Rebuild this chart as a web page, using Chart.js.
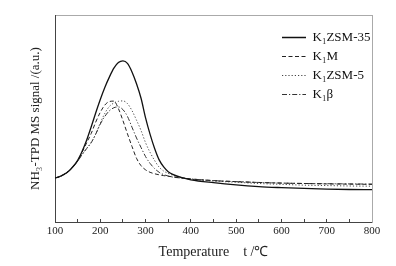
<!DOCTYPE html>
<html><head><meta charset="utf-8">
<script src="https://cdn.jsdelivr.net/npm/chart.js@4.4.1/dist/chart.umd.min.js"></script>
<style>html,body{margin:0;padding:0;background:#fff;}#wrap{width:396px;height:266px;}</style>
</head><body><div id="wrap"><canvas id="c" width="396" height="266"></canvas></div>
<script>
const temperatures = [100,110,120,130,140,150,160,170,180,190,200,210,220,230,240,250,260,270,280,290,300,310,320,330,340,350,360,380,400,450,500,550,600,650,700,750,800];
const k1zsm35 = [21.3,21.9,23.0,24.5,26.8,29.8,34.2,39.6,46,52.8,59.2,65,70,74.3,77,77.8,76.6,72.5,66.8,59.8,50.3,42.3,35.5,30,26.6,24.3,23.0,21.4,20.4,19.0,17.9,17.1,16.6,16.2,15.9,15.7,15.6];
const k1m = [21.3,21.9,23.0,24.5,26.8,29.6,33.8,38.3,42.8,48.3,53,56.5,58.2,58.4,54.8,49.0,42.6,36.5,30.8,27.2,25.2,24.0,23.3,22.8,22.4,22.1,21.8,21.3,20.8,20.0,19.5,19.1,18.8,18.6,18.4,18.3,18.2];
const k1zsm5 = [21.3,21.9,23.0,24.5,26.7,29.3,32.6,35.6,38.5,42.5,47.8,52.5,55.8,57.5,58.3,58.5,57.2,53.8,49.2,44.2,38.3,33.6,29.7,26.5,24.6,23.5,22.6,21.5,20.7,19.8,19.2,18.6,18.2,17.8,17.6,17.4,17.3];
const k1beta = [21.3,21.9,23.0,24.5,26.7,29.3,32.6,35.5,38.3,42.5,47.3,51,53.7,55.2,55.6,54.3,51,45.8,40.6,36,31.6,28.3,25.8,24.0,22.9,22.2,21.7,21.2,20.8,20.0,19.5,19.1,18.8,18.6,18.5,18.4,18.3];
const seriesNames = ['K\u2081ZSM-35','K\u2081M','K\u2081ZSM-5','K\u2081\u03B2'];
const xTickLabels = [100,200,300,400,500,600,700,800];
const yTitle = 'NH\u2083-TPD MS signal /(a.u.)';
const xTitle = 'Temperature    t /\u2103';

Chart.defaults.font.family = "'Liberation Serif', 'Times New Roman', serif";
Chart.defaults.color = '#111';

const toXY = arr => temperatures.map((t, i) => ({x: t, y: arr[i]}));
const legendMove = {
  id: 'legendMove',
  afterLayout(chart) {
    const l = chart.legend; if (!l) return;
    const w = l.width;
    l.left = 276; l.top = 25; l.right = l.left + w; l.bottom = l.top + 200;
  }
};
const mk = (label, arr, dash, color, width) => ({
  label, data: toXY(arr), borderColor: color, backgroundColor: color,
  borderWidth: width, borderDash: dash, pointRadius: 0, fill: false,
  cubicInterpolationMode: 'monotone'
});

new Chart(document.getElementById('c'), {
  type: 'line',
  data: {
    datasets: [
      mk(seriesNames[0], k1zsm35, [], '#111', 1.3),
      mk(seriesNames[1], k1m, [4, 2.5], '#222', 1),
      mk(seriesNames[2], k1zsm5, [1.2, 2], '#444', 1),
      mk(seriesNames[3], k1beta, [5, 2, 1.2, 2], '#333', 1)
    ]
  },
  options: {
    responsive: false, animation: false, devicePixelRatio: 1,
    layout: {padding: 0},
    plugins: {
      tooltip: {enabled: false},
      legend: {
        position: 'chartArea', align: 'start',
        labels: {usePointStyle: true, pointStyle: 'line', pointStyleWidth: 24, boxHeight: 8,
          padding: 6, color: '#111', font: {size: 13},
          generateLabels: chart => Chart.defaults.plugins.legend.labels.generateLabels(chart).map(it => {
            const ds = chart.data.datasets[it.datasetIndex];
            it.lineDash = ds.borderDash; it.strokeStyle = ds.borderColor; it.lineWidth = ds.borderWidth;
            it.fillStyle = ds.borderColor; it.pointStyle = 'line';
            return it;
          })}
      }
    },
    scales: {
      x: {
        type: 'linear', position: 'bottom', min: 100, max: 800,
        afterFit: s => { s.height = 44; },
        border: {color: '#444', width: 1},
        grid: {drawOnChartArea: false, tickLength: -3, color: '#444'},
        ticks: {stepSize: 50, autoSkip: false, maxRotation: 0, padding: 6,
          font: {size: 11}, color: '#222',
          callback: v => xTickLabels.includes(v) ? String(v) : ''},
        title: {display: true, text: xTitle, font: {size: 14}, color: '#222', padding: {top: 0, bottom: 5}}
      },
      x2: {
        type: 'linear', position: 'top', min: 100, max: 800,
        afterFit: s => { s.height = 15; },
        border: {color: '#aaa', width: 1},
        grid: {display: false}, ticks: {display: false}
      },
      y: {
        type: 'linear', position: 'left', min: 0, max: 100,
        afterFit: s => { s.width = 55; },
        border: {color: '#444', width: 1},
        grid: {display: false},
        ticks: {display: false},
        title: {display: true, text: yTitle, font: {size: 13}, color: '#222', padding: {top: 28, bottom: 0}}
      },
      y2: {
        type: 'linear', position: 'right', min: 0, max: 100,
        afterFit: s => { s.width = 24; },
        border: {color: '#aaa', width: 1},
        grid: {display: false}, ticks: {display: false}
      }
    }
  },
  plugins: [legendMove]
});
</script></body></html>
